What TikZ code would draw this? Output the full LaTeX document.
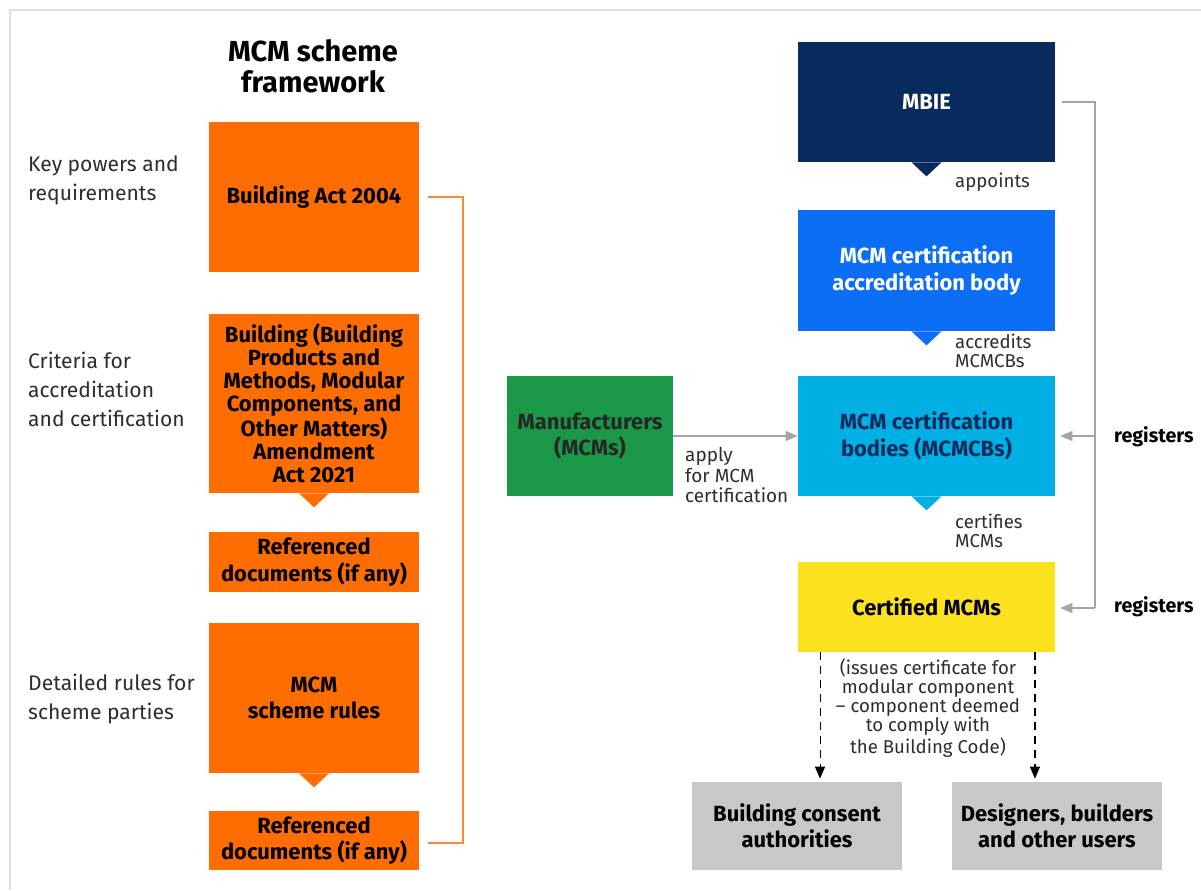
\documentclass[tikz,border=0pt]{standalone}
\usepackage{fontspec}
\setmainfont{Fira Sans}
\usetikzlibrary{arrows.meta}

\definecolor{actorange}{RGB}{255,109,0}
\definecolor{manugreen}{RGB}{26,152,72}
\definecolor{mbienavy}{RGB}{9,42,92}
\definecolor{accblue}{RGB}{12,110,245}
\definecolor{cbblue}{RGB}{0,176,228}
\definecolor{certyellow}{RGB}{252,226,30}
\definecolor{usergrey}{RGB}{200,200,200}
\definecolor{linegrey}{RGB}{165,165,165}
\definecolor{labeltext}{RGB}{45,45,45}

\tikzset{
  boxtext/.style={inner sep=2pt, align=center, font=\bfseries\fontsize{12.5}{15}\selectfont},
  lawbox/.style={boxtext, fill=actorange, text=black, minimum width=4.2cm},
  partybox/.style={boxtext, minimum width=5.14cm, minimum height=2.4cm},
  userbox/.style={boxtext, fill=usergrey, text=black, minimum width=4.2cm, minimum height=1.76cm},
  sidelabel/.style={anchor=west, align=left, text=labeltext, font=\fontsize{12}{16.5}\selectfont},
  steplabel/.style={anchor=west, align=left, text=labeltext, font=\fontsize{10.6}{10.8}\selectfont},
  reglabel/.style={anchor=west, font=\bfseries\fontsize{11.2}{13}\selectfont},
  greyarrow/.style={draw=linegrey, line width=0.7pt, -{Triangle[length=0.24cm, width=0.2cm]}},
  dasharrow/.style={draw=black, line width=0.6pt, dash pattern=on 0.16cm off 0.12cm, -{Triangle[length=0.24cm, width=0.2cm]}}
}
\def\pointer[#1](#2){\fill[#1] ([xshift=-0.3cm]#2.south) -- ([yshift=-0.28cm]#2.south) -- ([xshift=0.3cm]#2.south) -- cycle;}

\begin{document}
\begin{tikzpicture}[x=0.02cm, y=-0.02cm]
		%%%%% START %%%%%
		\useasboundingbox (0,0) rectangle (1201,890);
		\draw[gray!25, line width=0.6pt] (10,890) -- (10,10) -- (1201,10);
		
		% framework column
		\node[font=\bfseries\fontsize{16.5}{17.6}\selectfont, align=center] (title) at (313,66) {MCM scheme\\framework};
		
		\node[lawbox, minimum height=3cm] (act) at (314,197) {Building Act 2004};
		\node[lawbox, minimum height=3.58cm, font=\bfseries\fontsize{12.5}{13}\selectfont] (amend) at (314,403.5) {Building (Building\\Products and\\Methods, Modular\\Components, and\\Other Matters)\\Amendment\\Act 2021};
		\node[lawbox, minimum height=1.2cm] (refa) at (314,562) {Referenced\\documents (if any)};
		\node[lawbox, minimum height=3cm] (rules) at (314,698) {MCM\\scheme rules};
		\node[lawbox, minimum height=1.18cm] (refb) at (314,840.5) {Referenced\\documents (if any)};
		\pointer[actorange](amend)
		\pointer[actorange](rules)
		
		\draw[actorange!80, line width=0.6pt] ([xshift=0.18cm]act.east) -- (463,197) -- (463,843) -- ([xshift=0.18cm]refb.east |- 463,843);
		
		\node[sidelabel] (powers) at (22,180) {Key powers and\\requirements};
		\node[sidelabel] (criteria) at (22,389) {Criteria for\\accreditation\\and certification};
		\node[sidelabel] (detailed) at (22,699) {Detailed rules for\\scheme parties};
		
		% scheme parties
		\node[boxtext, fill=manugreen, text=black!85, minimum width=3.32cm, minimum height=2.4cm] (manu) at (590,436) {Manufacturers\\(MCMs)};
		\node[partybox, fill=mbienavy, text=white] (mbie) at (926.5,102) {MBIE};
		\node[partybox, fill=accblue, text=white, minimum height=2.42cm] (accbody) at (926.5,270.5) {MCM certification\\accreditation body};
		\node[partybox, fill=cbblue, text=mbienavy] (certbody) at (926.5,436) {MCM certification\\bodies (MCMCBs)};
		\node[partybox, fill=certyellow, text=black, minimum height=1.8cm] (certified) at (926.5,607) {Certified MCMs};
		\pointer[mbienavy](mbie)
		\pointer[accblue](accbody)
		\pointer[cbblue](certbody)
		
		\node[steplabel] (appoints) at (949,182) {appoints};
		\node[steplabel] (accredits) at (949,351) {accredits\\MCMCBs};
		\node[steplabel] (certifies) at (949,531) {certifies\\MCMs};
		\node[steplabel, font=\fontsize{10.8}{11.6}\selectfont] (apply) at (679,475) {apply\\for MCM\\certification};
		
		\draw[greyarrow] (manu.east) -- (certbody.west);
		
		% registers
		\coordinate (regtop) at (1095,102);
		\coordinate (regbot) at (1095,608);
		\draw[linegrey, line width=0.7pt] ([xshift=0.14cm]mbie.east) -- (regtop) -- (regbot);
		\draw[greyarrow] (regtop |- certbody.east) -- ([xshift=0.1cm]certbody.east);
		\draw[greyarrow] (regbot) -- ([xshift=0.1cm]certified.east |- regbot);
		\node[reglabel] (regone) at (1108,437) {registers};
		\node[reglabel] (regtwo) at (1108,607) {registers};
		
		% users
		\node[userbox] (consent) at (797,826) {Building consent\\authorities};
		\node[userbox] (users) at (1057,826) {Designers, builders\\and other users};
		\coordinate (issuea) at ([xshift=-2.13cm]certified.south);
		\coordinate (issueb) at ([xshift=2.17cm]certified.south);
		\draw[dasharrow] (issuea) -- ([yshift=0.06cm]issuea |- consent.north);
		\draw[dasharrow] (issueb) -- ([yshift=0.06cm]issueb |- users.north);
		\node[align=center, text=labeltext, font=\fontsize{10.6}{10.8}\selectfont] (issues) at (928,708) {(issues certificate for\\modular component\\-- component deemed\\to comply with\\the Building Code)};
		
		%%%%% END %%%%%
\end{tikzpicture}
\end{document}
